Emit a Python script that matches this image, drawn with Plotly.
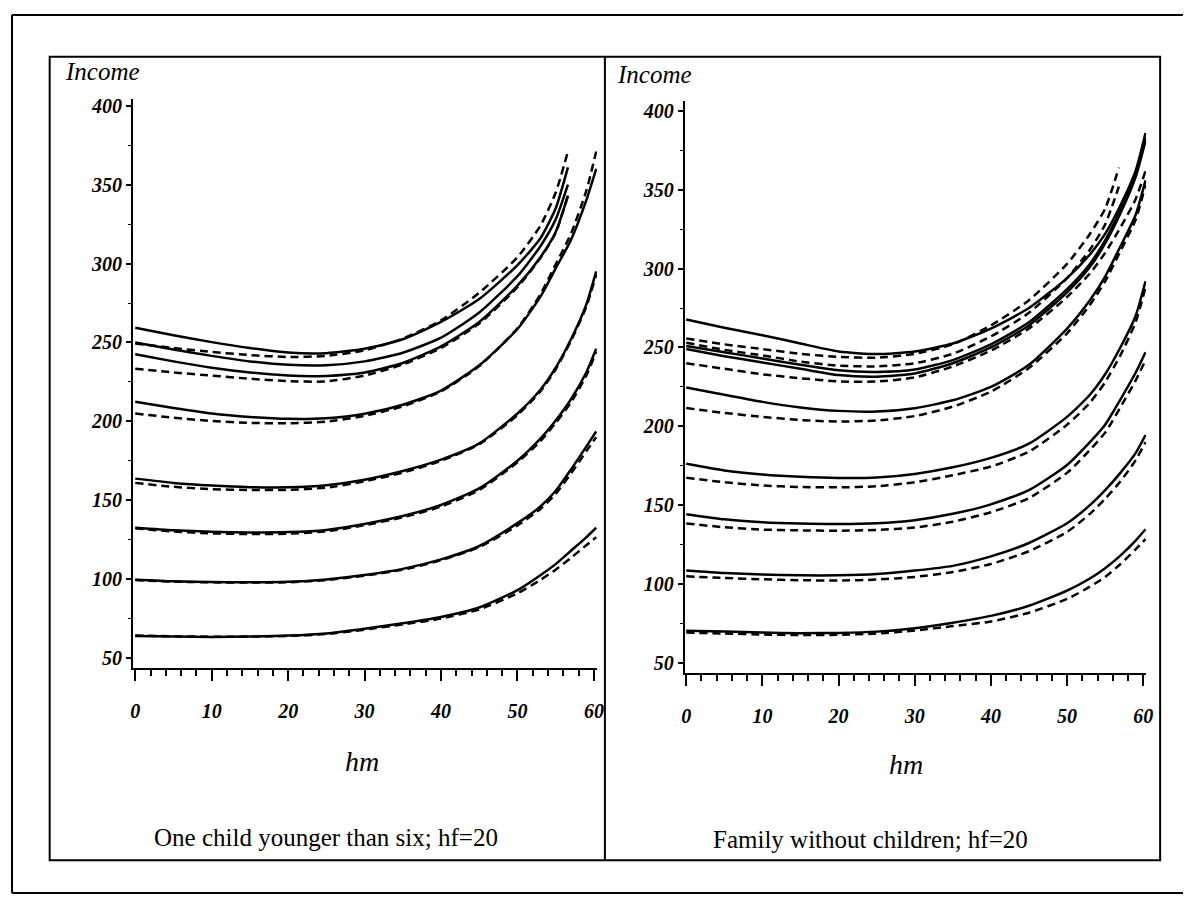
import plotly.graph_objects as go

# ---------------- data ----------------
X_TICKS = [0, 10, 20, 30, 40, 50, 60]
Y_TICKS = [50, 100, 150, 200, 250, 300, 350, 400]

LEFT_TITLE = "One child younger than six; hf=20"
RIGHT_TITLE = "Family without children; hf=20"

# hours of the male partner (hm) grids
HM_FULL = [0, 5, 10, 15, 20, 25, 30, 35, 40, 45, 50, 53, 55, 57, 59, 60.3]
HM_SHORT_L = [0, 5, 10, 15, 20, 25, 30, 35, 40, 45, 50, 53, 55, 56.6]
HM_SHORT_R = [0, 5, 10, 15, 20, 25, 30, 35, 40, 45, 50, 53, 55, 56.8]

# left panel: one child younger than six
L_S1 = [64.0, 63.6, 63.4, 63.6, 64.2, 65.6, 68.6, 72.0, 76.0, 82.0, 93.0, 102.5, 109.5, 118.0, 126.5, 132.6]
L_D1 = [64.2, 63.8, 63.5, 63.6, 64.0, 65.2, 68.0, 71.3, 75.0, 80.8, 91.0, 99.5, 106.0, 113.5, 121.5, 126.5]
L_S2 = [99.6, 98.6, 98.2, 98.0, 98.3, 99.8, 102.6, 106.5, 112.5, 121.0, 135.5, 146.0, 156.0, 169.5, 184.0, 193.6]
L_D2 = [99.4, 98.4, 98.0, 97.8, 98.0, 99.4, 102.2, 106.0, 112.0, 120.3, 134.0, 144.5, 154.0, 167.0, 181.0, 190.0]
L_S3 = [132.6, 131.0, 130.0, 129.6, 129.8, 131.2, 135.0, 140.0, 147.0, 157.5, 175.0, 189.0, 200.5, 214.0, 231.0, 246.0]
L_D3 = [132.2, 130.2, 129.0, 128.6, 128.8, 130.3, 134.2, 139.2, 146.0, 156.5, 174.0, 187.5, 199.0, 212.0, 229.0, 244.0]
L_S4 = [163.7, 161.0, 159.3, 158.3, 158.2, 159.5, 163.0, 168.5, 175.7, 186.0, 205.0, 220.0, 234.0, 252.0, 274.0, 295.0]
L_D4 = [161.0, 158.5, 157.0, 156.5, 156.6, 158.0, 162.0, 167.5, 175.0, 185.5, 204.0, 219.0, 233.0, 251.0, 272.5, 293.0]
L_S5 = [212.4, 208.5, 205.0, 202.8, 201.6, 202.0, 204.8, 210.5, 219.5, 235.5, 258.5, 279.0, 297.0, 315.0, 340.0, 360.0]
L_D5 = [205.0, 202.3, 200.2, 199.0, 198.8, 199.8, 203.5, 209.5, 219.0, 235.0, 259.0, 280.5, 299.5, 319.0, 346.0, 371.0]
L_SA = [259.3, 254.5, 250.2, 246.5, 243.6, 243.2, 246.0, 252.0, 263.0, 277.5, 299.0, 316.0, 335.0, 361.0]
L_DA = [249.3, 246.5, 244.0, 242.0, 240.8, 241.5, 245.0, 252.5, 264.0, 281.5, 304.0, 324.0, 345.0, 371.0]
L_SB = [250.0, 245.5, 241.5, 238.0, 235.8, 235.5, 238.0, 243.5, 253.0, 269.0, 292.0, 311.0, 328.0, 350.0]
L_SC = [242.5, 238.0, 234.0, 231.0, 229.0, 228.8, 231.0, 237.0, 247.5, 263.0, 286.0, 304.0, 320.0, 343.0]
L_DC = [233.4, 231.0, 229.0, 227.0, 225.5, 225.3, 229.0, 236.0, 246.5, 262.0, 285.0, 303.5, 319.5, 343.0]

# right panel: family without children
R_S1 = [70.3, 69.8, 69.2, 68.8, 69.0, 69.8, 72.0, 75.5, 79.8, 86.2, 95.8, 103.5, 110.0, 118.0, 127.5, 134.7]
R_D1 = [69.2, 68.6, 68.0, 67.6, 67.8, 68.6, 70.5, 73.3, 76.2, 81.8, 90.5, 98.3, 104.5, 112.5, 122.0, 128.4]
R_S2 = [108.6, 107.0, 106.0, 105.5, 105.5, 106.3, 108.5, 111.5, 117.5, 126.0, 138.5, 150.0, 159.5, 170.5, 183.0, 194.5]
R_D2 = [104.9, 103.8, 103.0, 102.4, 102.2, 102.8, 104.5, 107.6, 112.7, 120.8, 133.0, 144.5, 154.0, 165.0, 178.5, 190.0]
R_S3 = [144.3, 141.0, 139.2, 138.3, 138.0, 138.5, 140.5, 144.5, 150.5, 159.5, 175.5, 190.0, 201.0, 217.0, 234.0, 247.0]
R_D3 = [138.4, 136.0, 134.5, 134.0, 133.8, 134.3, 135.8, 139.5, 145.5, 154.5, 170.5, 185.0, 196.0, 212.0, 229.0, 242.0]
R_S4 = [176.2, 172.0, 169.5, 168.0, 167.2, 167.5, 169.8, 174.0, 180.0, 189.0, 206.0, 220.0, 233.0, 250.0, 270.0, 292.0]
R_D4 = [167.4, 164.5, 162.5, 161.5, 161.3, 162.0, 164.5, 169.0, 174.5, 184.0, 201.0, 215.0, 228.0, 245.0, 266.0, 288.0]
R_S5 = [224.6, 220.0, 215.5, 212.0, 209.8, 209.4, 211.5, 216.5, 225.0, 239.0, 262.0, 280.0, 295.0, 314.0, 334.0, 356.0]
R_D5 = [211.6, 208.5, 206.0, 204.0, 203.0, 203.7, 206.5, 212.5, 222.0, 237.0, 259.0, 277.0, 292.0, 311.0, 331.0, 353.0]
R_SA = [267.7, 262.5, 257.8, 252.5, 247.5, 245.8, 247.5, 252.5, 262.0, 275.0, 294.0, 309.0, 322.0, 340.0, 362.0, 386.0]
R_SB = [251.0, 247.0, 243.0, 239.0, 235.5, 234.5, 236.0, 242.0, 252.0, 266.0, 287.0, 303.0, 318.0, 337.0, 360.0, 383.0]
R_SC = [249.0, 244.5, 240.5, 236.5, 232.5, 231.5, 233.5, 240.0, 250.0, 264.0, 285.0, 301.0, 316.0, 335.0, 358.0, 381.0]
R_DC = [240.0, 236.5, 233.0, 230.5, 228.5, 228.4, 231.0, 238.0, 248.0, 262.0, 282.0, 297.0, 310.0, 326.0, 344.0, 362.0]
R_DA = [255.7, 252.0, 249.0, 246.0, 244.0, 243.5, 246.0, 252.0, 264.0, 280.0, 303.0, 322.0, 338.0, 364.0]
R_DB = [253.0, 248.5, 245.0, 241.0, 238.5, 238.0, 240.0, 246.0, 257.0, 272.0, 294.0, 312.0, 328.0, 352.0]

# ---------------- layout helpers ----------------
W, H, OFF = 1175, 888, 8   # figure size; page body margin offset


def px(x):
    return (x - OFF) / W


def py(y):
    return 1 - (y - OFF) / H


SOLID = dict(color="black", width=2.5, shape="spline", smoothing=0.6)
DASHED = dict(color="black", width=2.5, dash="8px,5px", shape="spline", smoothing=0.6)

left_curves = [
    (HM_FULL, L_S1, SOLID), (HM_FULL, L_D1, DASHED),
    (HM_FULL, L_S2, SOLID), (HM_FULL, L_D2, DASHED),
    (HM_FULL, L_S3, SOLID), (HM_FULL, L_D3, DASHED),
    (HM_FULL, L_S4, SOLID), (HM_FULL, L_D4, DASHED),
    (HM_FULL, L_S5, SOLID), (HM_FULL, L_D5, DASHED),
    (HM_SHORT_L, L_SA, SOLID), (HM_SHORT_L, L_DA, DASHED),
    (HM_SHORT_L, L_SB, SOLID),
    (HM_SHORT_L, L_SC, SOLID), (HM_SHORT_L, L_DC, DASHED),
]
right_curves = [
    (HM_FULL, R_S1, SOLID), (HM_FULL, R_D1, DASHED),
    (HM_FULL, R_S2, SOLID), (HM_FULL, R_D2, DASHED),
    (HM_FULL, R_S3, SOLID), (HM_FULL, R_D3, DASHED),
    (HM_FULL, R_S4, SOLID), (HM_FULL, R_D4, DASHED),
    (HM_FULL, R_S5, SOLID), (HM_FULL, R_D5, DASHED),
    (HM_FULL, R_SA, SOLID), (HM_SHORT_R, R_DA, DASHED),
    (HM_SHORT_R, R_DB, DASHED),
    (HM_FULL, R_SB, SOLID),
    (HM_FULL, R_SC, SOLID), (HM_FULL, R_DC, DASHED),
]

fig = go.Figure()
for xs, ys, ln in left_curves:
    fig.add_trace(go.Scatter(x=xs, y=ys, mode="lines", line=ln,
                             xaxis="x", yaxis="y", showlegend=False, hoverinfo="skip"))
for xs, ys, ln in right_curves:
    fig.add_trace(go.Scatter(x=xs, y=ys, mode="lines", line=ln,
                             xaxis="x2", yaxis="y2", showlegend=False, hoverinfo="skip"))

SERIF = "Liberation Serif, Times New Roman, serif"
TICKFONT = dict(family=SERIF, size=20, color="black", weight="bold", style="italic")


def xax(domain, rng, anchor):
    return dict(domain=domain, range=rng, anchor=anchor, showgrid=False, zeroline=False,
                showline=True, linecolor="black", linewidth=2,
                tickmode="array", tickvals=X_TICKS, ticktext=[str(v) for v in X_TICKS],
                ticks="outside", ticklen=11, tickwidth=2, tickcolor="black",
                ticklabelstandoff=13, tickfont=TICKFONT,
                minor=dict(dtick=2, tick0=0, ticks="outside", ticklen=6,
                           tickwidth=2, tickcolor="black", showgrid=False))


def yax(domain, rng, anchor):
    return dict(domain=domain, range=rng, anchor=anchor, showgrid=False, zeroline=False,
                showline=True, linecolor="black", linewidth=2,
                tickmode="array", tickvals=Y_TICKS, ticktext=[str(v) for v in Y_TICKS],
                ticks="outside", ticklen=5, tickwidth=1.5, tickcolor="black",
                ticklabelstandoff=0, tickfont=TICKFONT,
                minor=dict(dtick=25, tick0=0, ticks="outside", ticklen=3,
                           tickwidth=1, tickcolor="black", showgrid=False))


fig.update_layout(
    width=W, height=H,
    margin=dict(l=0, r=0, t=0, b=0, pad=0),
    paper_bgcolor="white", plot_bgcolor="white",
    xaxis=xax([px(131), px(599)], [-0.3, 60.4], "y"),
    yaxis=yax([py(668), py(95)], [43.5, 404.6], "x"),
    xaxis2=xax([px(687.5), px(1153)], [-0.2, 60.4], "y2"),
    yaxis2=yax([py(673), py(98)], [43.4, 406], "x2"),
)

# frames (outer scan frame, inner box, divider)
shapes = [
    dict(type="line", x0=px(9), x1=px(1200), y0=py(11), y1=py(11)),
    dict(type="line", x0=px(9), x1=px(9), y0=py(11), y1=py(894)),
    dict(type="line", x0=px(9), x1=px(1200), y0=py(894), y1=py(894)),
    dict(type="rect", x0=px(47), x1=px(1167), y0=py(53), y1=py(861)),
    dict(type="line", x0=px(607), x1=px(607), y0=py(53), y1=py(861)),
]
for s in shapes:
    s.update(xref="paper", yref="paper", line=dict(color="black", width=2))
    fig.add_shape(**s)

annots = [
    dict(text="Income", x=px(60), y=py(68), xanchor="left", yanchor="middle",
         font=dict(family=SERIF, size=25, style="italic", color="black")),
    dict(text="Income", x=px(617), y=py(71), xanchor="left", yanchor="middle",
         font=dict(family=SERIF, size=25, style="italic", color="black")),
    dict(text="hm", x=px(362), y=py(762), xanchor="center", yanchor="middle",
         font=dict(family=SERIF, size=28, style="italic", color="black")),
    dict(text="hm", x=px(911), y=py(765), xanchor="center", yanchor="middle",
         font=dict(family=SERIF, size=28, style="italic", color="black")),
    dict(text=LEFT_TITLE, x=px(326), y=py(838), xanchor="center", yanchor="middle",
         font=dict(family=SERIF, size=25, color="black")),
    dict(text=RIGHT_TITLE, x=px(875), y=py(840), xanchor="center", yanchor="middle",
         font=dict(family=SERIF, size=25, color="black")),
]
for a in annots:
    a.update(xref="paper", yref="paper", showarrow=False)
    fig.add_annotation(**a)

fig.write_html("out.html")
